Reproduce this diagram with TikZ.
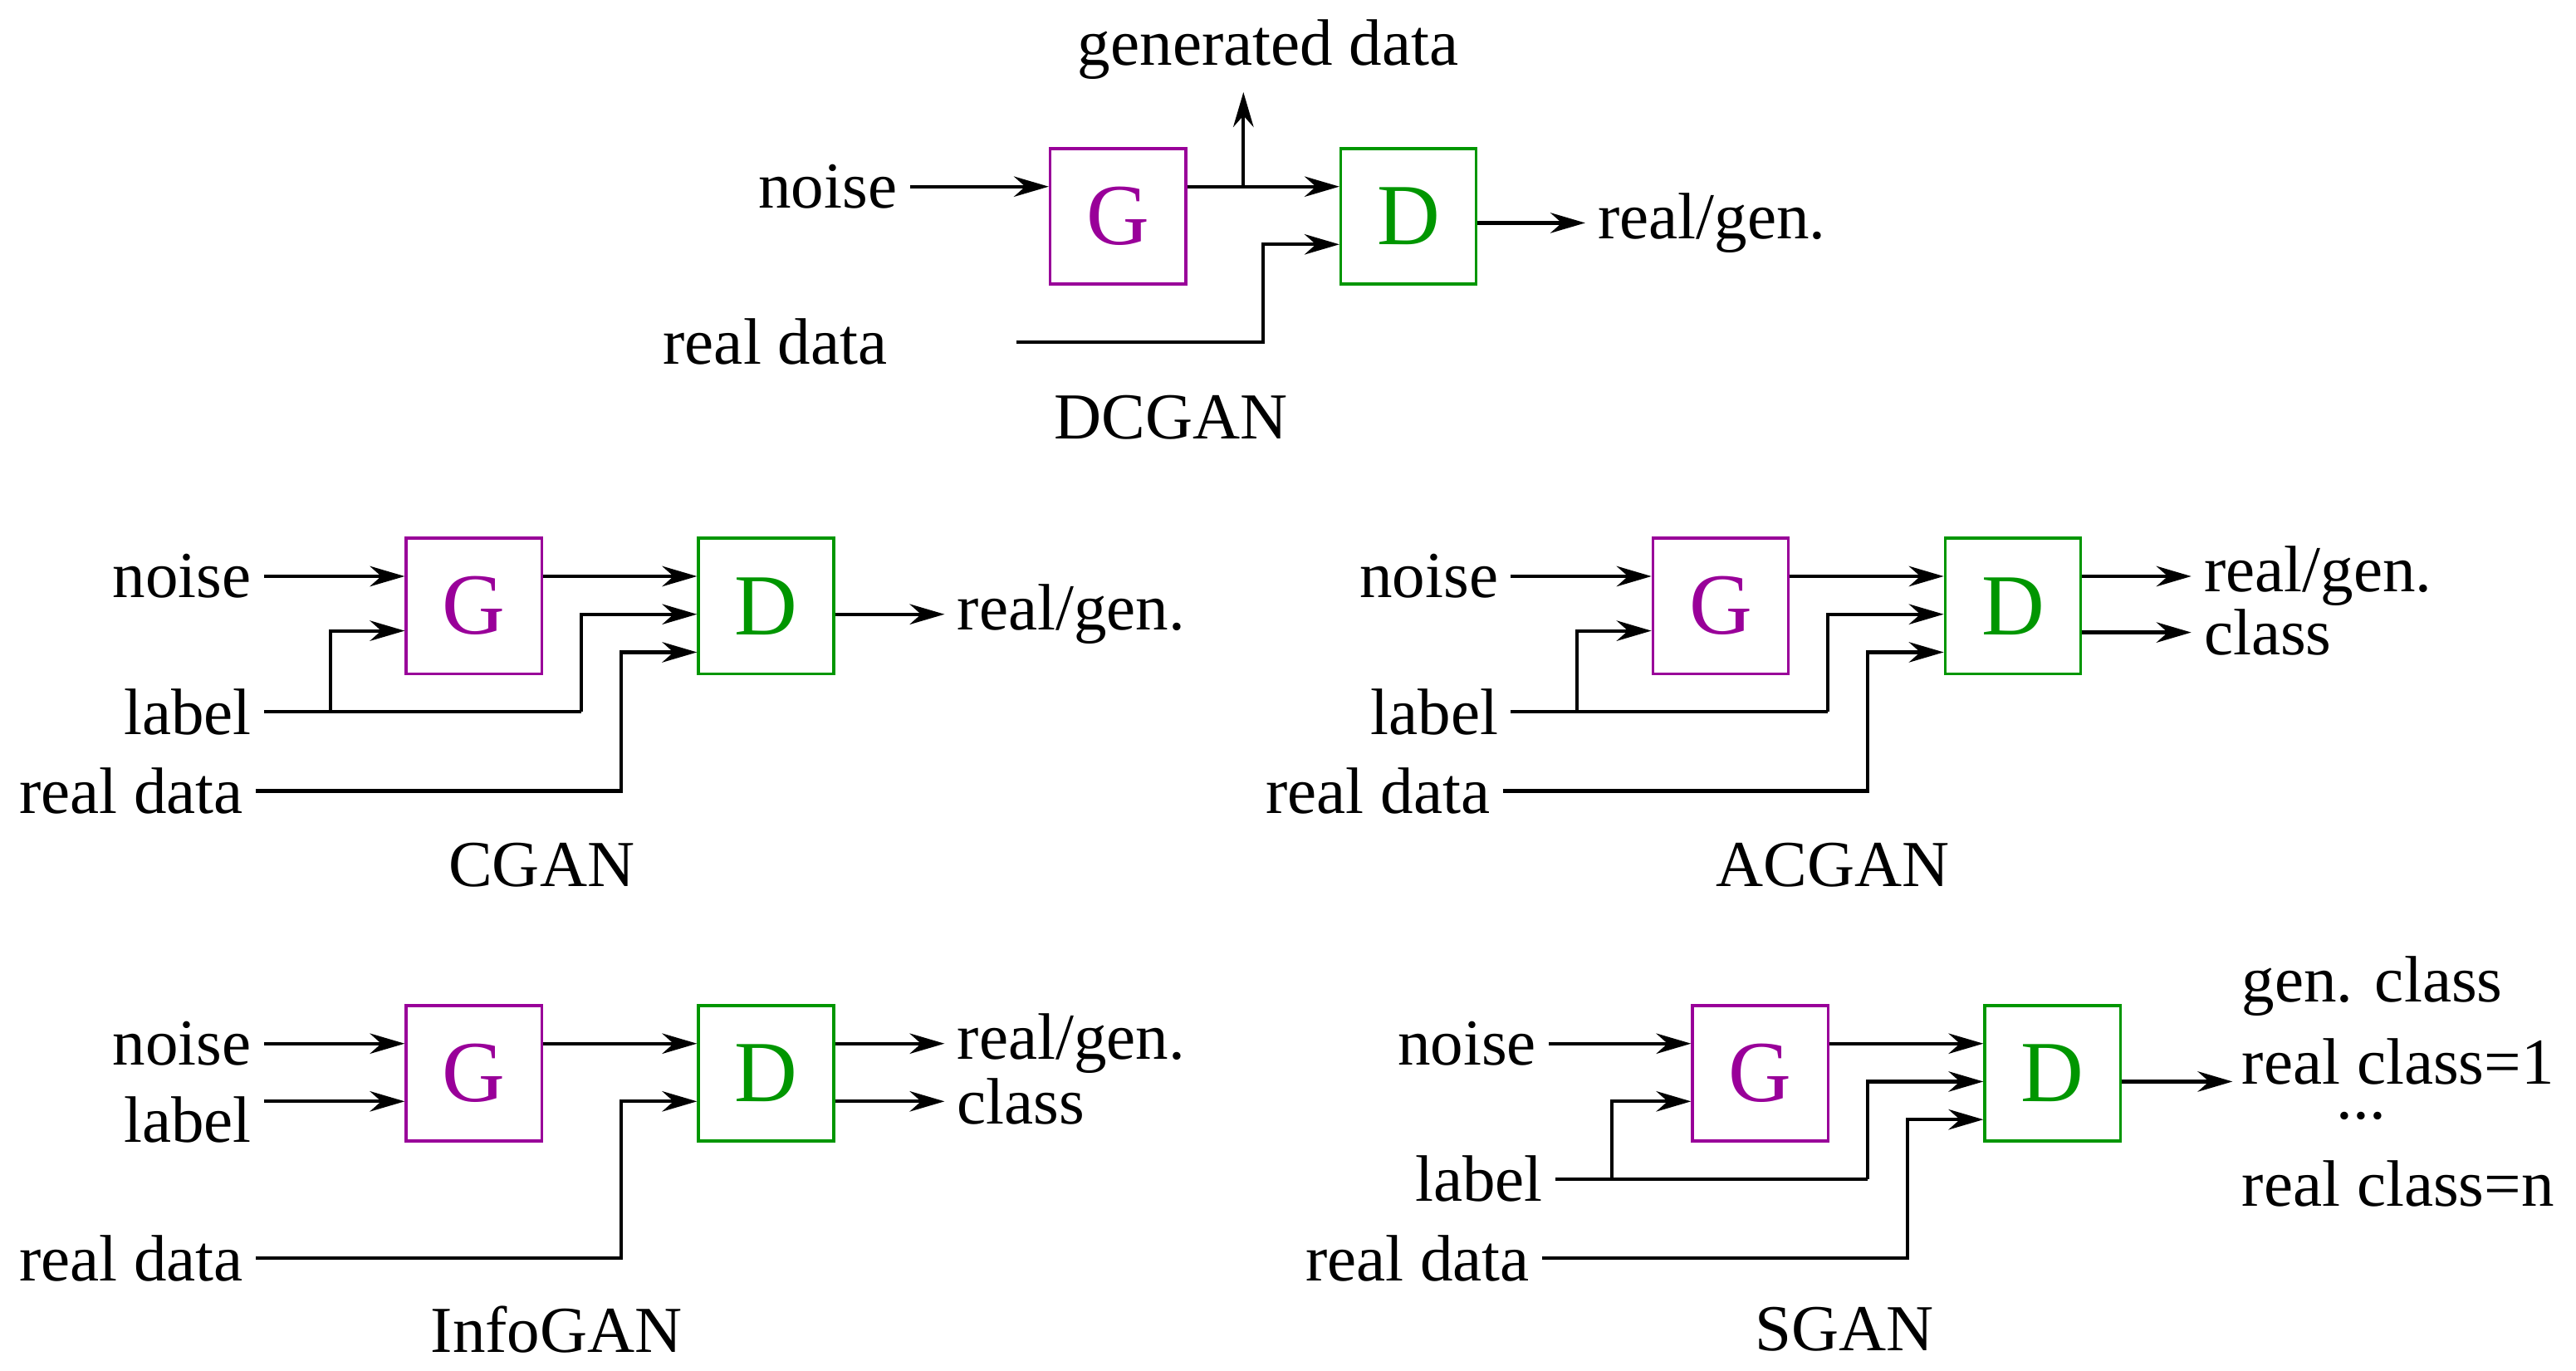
\documentclass[tikz,border=0pt]{standalone}
\usepackage{fontspec}
\setmainfont{Liberation Serif}
\usetikzlibrary{arrows.meta}
\definecolor{gcol}{RGB}{153,0,153}
\definecolor{dcol}{RGB}{0,150,0}
\tikzset{
  box/.style={draw,minimum width=0.82cm,minimum height=0.82cm,font=\fontsize{15}{17}\selectfont,line width=0.5pt},
  gbox/.style={box,draw=gcol,text=gcol},
  dbox/.style={box,draw=dcol,text=dcol},
  lab/.style={inner sep=2pt,font=\fontsize{11.3}{13}\selectfont},
  arr/.style={-{Stealth[length=6pt,width=3.5pt]},line width=0.6pt},
  ln/.style={line width=0.6pt}
}
\begin{document}
\begin{tikzpicture}[x=0.01cm,y=-0.01cm]
\useasboundingbox (0,0) rectangle (1560,830);
% DCGAN
\node(g1)[gbox] at (677,131) {G};
\node(d1)[dbox] at (853,131) {D};
\node(n1)[lab,anchor=east] at (551,113) {noise};
\node(r1)[lab,anchor=east] at (545,207) {real data};
\node(gd1)[lab] at (768,30) {generated data};
\node(o1)[lab,anchor=west] at (960,135) {real/gen.};
\node(t1)[lab] at (709,253) {DCGAN};
\coordinate(j1) at (753,113);
\draw[arr] (n1.east) -- (n1.east -| g1.west);
\draw[arr] (j1 -| g1.east) -- (j1 -| d1.west);
\draw[arr] (j1) -- (gd1.south -| j1);
\draw[arr] ([xshift=20]r1.east) -| (765,148) -- (d1.west |- 0,148);
\draw[arr] (d1.east |- 0,135) -- (o1.west);
% CGAN
\node(g2)[gbox] at (287,367) {G};
\node(d2)[dbox] at (464,367) {D};
\node(n2)[lab,anchor=east] at (160,349) {noise};
\node(l2)[lab,anchor=east] at (160,431) {label};
\node(r2)[lab,anchor=east] at (155,479) {real data};
\node(o2)[lab,anchor=west] at (572,372) {real/gen.};
\node(t2)[lab] at (328,524) {CGAN};
\draw[arr] (n2.east) -- (n2.east -| g2.west);
\draw[arr] (g2.east |- 0,349) -- (d2.west |- 0,349);
\draw[ln] (l2.east) -- (352,431);
\draw[arr] (200,431) |- (g2.west |- 0,382);
\draw[arr] (352,431) |- (d2.west |- 0,372);
\draw[arr] (r2.east) -| (376,395) -- (d2.west |- 0,395);
\draw[arr] (d2.east |- 0,372) -- (o2.west);
% ACGAN
\node(g3)[gbox] at (1042,367) {G};
\node(d3)[dbox] at (1219,367) {D};
\node(n3)[lab,anchor=east] at (915,349) {noise};
\node(l3)[lab,anchor=east] at (915,431) {label};
\node(r3)[lab,anchor=east] at (910,479) {real data};
\node(o3)[lab,anchor=west] at (1327,349) {real/gen.};
\node(c3)[lab,anchor=west] at (1327,383) {class};
\node(t3)[lab] at (1110,524) {ACGAN};
\draw[arr] (n3.east) -- (n3.east -| g3.west);
\draw[arr] (g3.east |- 0,349) -- (d3.west |- 0,349);
\draw[ln] (l3.east) -- (1107,431);
\draw[arr] (955,431) |- (g3.west |- 0,382);
\draw[arr] (1107,431) |- (d3.west |- 0,372);
\draw[arr] (r3.east) -| (1131,395) -- (d3.west |- 0,395);
\draw[arr] (d3.east |- 0,349) -- (o3.west);
\draw[arr] (d3.east |- 0,383) -- (c3.west);
% InfoGAN
\node(g4)[gbox] at (287,650) {G};
\node(d4)[dbox] at (464,650) {D};
\node(n4)[lab,anchor=east] at (160,632) {noise};
\node(l4)[lab,anchor=east] at (160,678) {label};
\node(r4)[lab,anchor=east] at (155,762) {real data};
\node(o4)[lab,anchor=west] at (572,632) {real/gen.};
\node(c4)[lab,anchor=west] at (572,667) {class};
\node(t4)[lab] at (337,805) {InfoGAN};
\draw[arr] (n4.east) -- (n4.east -| g4.west);
\draw[arr] (l4.east |- 0,667) -- (g4.west |- 0,667);
\draw[arr] (g4.east |- 0,632) -- (d4.west |- 0,632);
\draw[arr] (r4.east) -| (376,667) -- (d4.west |- 0,667);
\draw[arr] (d4.east |- 0,632) -- (o4.west);
\draw[arr] (d4.east |- 0,667) -- (c4.west);
% SGAN
\node(g5)[gbox] at (1066,650) {G};
\node(d5)[dbox] at (1243,650) {D};
\node(n5)[lab,anchor=east] at (938,632) {noise};
\node(l5)[lab,anchor=east] at (942,714) {label};
\node(r5)[lab,anchor=east] at (934,762) {real data};
\node(o5)[lab,anchor=west] at (1350,597) {gen. class};
\node(o5b)[lab,anchor=west] at (1350,643) {real class=1};
\node(o5c)[lab] at (1430,676) {...};
\node(o5d)[lab,anchor=west] at (1350,717) {real class=n};
\node(t5)[lab] at (1117,805) {SGAN};
\coordinate(e5) at (1352,655);
\draw[arr] (n5.east) -- (n5.east -| g5.west);
\draw[arr] (g5.east |- 0,632) -- (d5.west |- 0,632);
\draw[ln] (l5.east) -- (1131,714);
\draw[arr] (976,714) |- (g5.west |- 0,667);
\draw[arr] (1131,714) |- (d5.west |- 0,655);
\draw[arr] (r5.east) -| (1155,678) -- (d5.west |- 0,678);
\draw[arr] (d5.east |- e5) -- (e5);
\end{tikzpicture}
\end{document}
